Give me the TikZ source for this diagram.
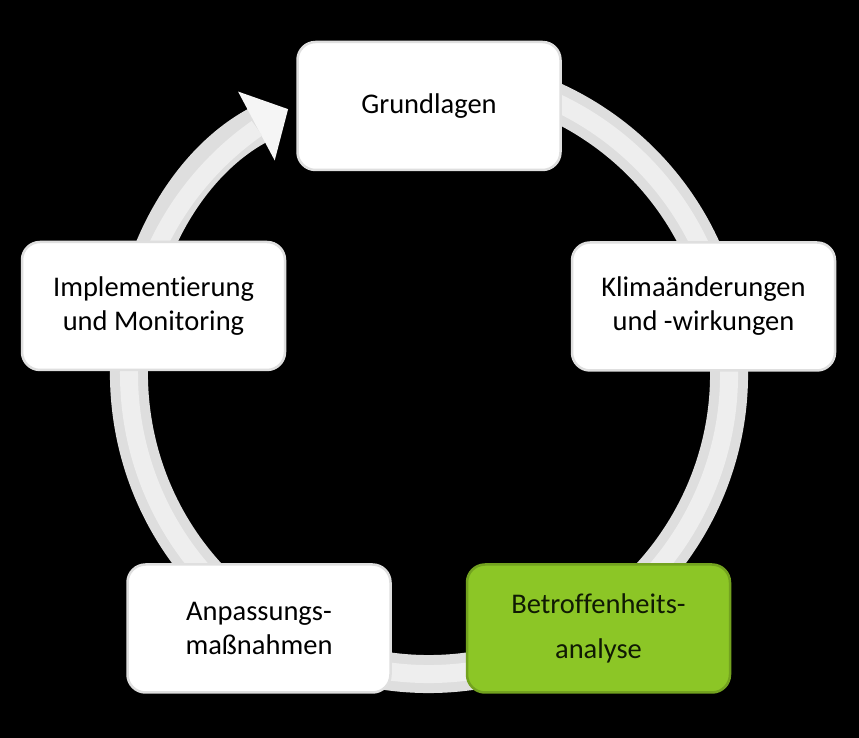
\documentclass[tikz,border=0pt]{standalone}
\usepackage{fontspec}
\setmainfont{Carlito}[Ligatures=NoCommon]
\usepackage{tikz}
\usetikzlibrary{arrows.meta}
\definecolor{ringgray}{RGB}{222,222,222}
\definecolor{ringlight}{RGB}{238,238,238}
\definecolor{boxgreen}{RGB}{140,198,38}
\definecolor{textgreen}{RGB}{16,26,4}

\begin{document}
\begin{tikzpicture}[x=1pt,y=1pt]
  \tikzstyle{st} = [rectangle, rounded corners=18pt, draw=gray!25, line width=2.5pt, fill=white, minimum width=263pt, minimum height=128pt, align=center, font=\fontsize{28.5}{34}\selectfont]
  \tikzstyle{hl} = [st, fill=boxgreen, draw=boxgreen!82!black, text=textgreen, font=\fontsize{28.5}{45}\selectfont]
  \tikzstyle{rg} = [line width=38pt, draw=ringgray]
  \fill[black] (0,0) rectangle (859,738);
  \useasboundingbox (0,0) rectangle (859,738);
  \coordinate (c) at (429,364);

  \draw[rg, -{Triangle[width=76pt,length=36pt,color=ringlight!60!white]}] ([shift={(100:300)}]c) arc[start angle=100, end angle=-242, radius=300];
  \draw[line width=18pt, draw=ringlight] ([shift={(100:300)}]c) arc[start angle=100, end angle=-235, radius=300];

  \node[st](grund) at (429,632){Grundlagen};
  \node[st](klima) at (703.5,431.5){Klimaänderungen\\und -wirkungen};
  \node[hl](betr) at (598.5,109.5){Betroffenheits-\\analyse};
  \node[st](anp) at (259,109.5){Anpassungs-\\maßnahmen};
  \node[st](impl) at (153.5,432){Implementierung\\und Monitoring};

\end{tikzpicture}
\end{document}
